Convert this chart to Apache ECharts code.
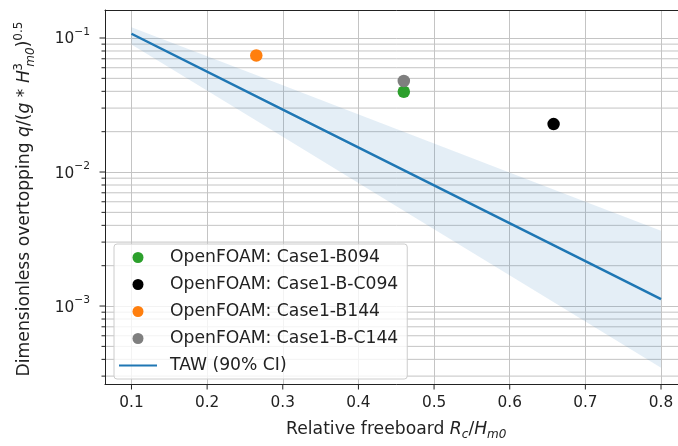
<!DOCTYPE html>
<html>
<head>
<meta charset="utf-8">
<script src="https://cdn.jsdelivr.net/npm/echarts@6/dist/echarts.min.js"></script>
<style>
  html, body { margin: 0; padding: 0; background: #ffffff; overflow: hidden; }
  #chart { width: 700px; height: 446px; }
</style>
</head>
<body>
<div id="chart"></div>
<script>
// OpenFOAM cases: relative freeboard Rc/Hm0 and dimensionless overtopping
const caseNames = ['OpenFOAM: Case1-B094', 'OpenFOAM: Case1-B-C094', 'OpenFOAM: Case1-B144', 'OpenFOAM: Case1-B-C144'];
const caseColors = ['#2ca02c', '#000000', '#ff7f0e', '#7f7f7f'];
const caseFreeboard = [0.46, 0.658, 0.265, 0.46];
const caseOvertopping = [0.0397, 0.0228, 0.074, 0.0478];

// TAW prediction and its 90% confidence band
const tawName = 'TAW (90% CI)';
const tawFreeboard = [0.1, 0.3, 0.5, 0.7, 0.8];
const tawMean = [0.1076, 0.0292, 0.00796, 0.00216, 0.001127];
const tawUpper = [0.1205, 0.0444, 0.0163, 0.0060, 0.00364];
const tawLower = [0.0893, 0.0183, 0.00374, 0.000766, 0.000347];

// Axis limits and ticks
const xLimits = [0.065, 0.835];
const yLimits = [2.62e-4, 0.1618];
const xTicks = [0.1, 0.2, 0.3, 0.4, 0.5, 0.6, 0.7, 0.8];
const yMajorTicks = [1e-3, 1e-2, 1e-1];
const yMinorTicks = [3e-4, 4e-4, 5e-4, 6e-4, 7e-4, 8e-4, 9e-4,
                     2e-3, 3e-3, 4e-3, 5e-3, 6e-3, 7e-3, 8e-3, 9e-3,
                     2e-2, 3e-2, 4e-2, 5e-2, 6e-2, 7e-2, 8e-2, 9e-2];

const FONT = 'DejaVu Sans';
const INK = '#222222';
const GRID = '#c4c4c4';

const chart = echarts.init(document.getElementById('chart'), null, { renderer: 'canvas' });

// Minor horizontal grid lines plus short ticks on the left spine
function minorYRender(params, api) {
  const cs = params.coordSys;
  const y = api.coord([xTicks[0], api.value(1)])[1];
  return {
    type: 'group',
    children: [
      { type: 'line', shape: { x1: cs.x, y1: y, x2: cs.x + cs.width, y2: y },
        style: { stroke: GRID, lineWidth: 1 } },
      { type: 'line', shape: { x1: cs.x - 3.5, y1: y, x2: cs.x, y2: y },
        style: { stroke: INK, lineWidth: 1 } }
    ]
  };
}
function majorYRender(params, api) {
  const cs = params.coordSys;
  const y = api.coord([xTicks[0], api.value(1)])[1];
  return { type: 'line', shape: { x1: cs.x - 5.5, y1: y, x2: cs.x, y2: y },
           style: { stroke: INK, lineWidth: 1 } };
}
function majorXRender(params, api) {
  const cs = params.coordSys;
  const x = api.coord([api.value(0), yLimits[0]])[0];
  const yb = cs.y + cs.height;
  return { type: 'line', shape: { x1: x, y1: yb, x2: x, y2: yb + 5.5 },
           style: { stroke: INK, lineWidth: 1 } };
}
// Confidence band as one closed polygon
function bandRender(params, api) {
  if (params.dataIndex !== 0) return null;
  const pts = [];
  for (let i = 0; i < tawFreeboard.length; i++) pts.push(api.coord([tawFreeboard[i], tawUpper[i]]));
  for (let i = tawFreeboard.length - 1; i >= 0; i--) pts.push(api.coord([tawFreeboard[i], tawLower[i]]));
  return { type: 'polygon', shape: { points: pts },
           style: { fill: 'rgba(31,119,180,0.12)', stroke: null } };
}

const scatterSeries = caseNames.map((name, i) => ({
  name: name,
  type: 'scatter',
  symbol: 'circle',
  symbolSize: 12.5,
  itemStyle: { color: caseColors[i], opacity: 1 },
  data: [[caseFreeboard[i], caseOvertopping[i]]],
  z: 5,
  silent: true
}));

const option = {
  animation: false,
  backgroundColor: '#ffffff',
  textStyle: { fontFamily: FONT },
  grid: { left: 105, top: 10, width: 582.5, height: 378, containLabel: false },
  xAxis: [{
    type: 'value',
    min: xLimits[0], max: xLimits[1],
    minInterval: 0.1, maxInterval: 0.1,
    axisLine: { show: true, onZero: false, lineStyle: { color: INK, width: 1 } },
    axisTick: { show: false },
    splitLine: { show: true, showMinLine: false, showMaxLine: false, lineStyle: { color: GRID, width: 1 } },
    axisLabel: {
      margin: 12, color: INK, fontFamily: FONT, fontSize: 15.3,
      formatter: v => (Math.abs(v * 10 - Math.round(v * 10)) < 1e-6 ? v.toFixed(1) : '')
    },
    name: 'Relative freeboard {i|R}{sb|c}{t|/}{i|H}{sb|m0}',
    nameLocation: 'middle',
    nameGap: 35,
    nameTextStyle: {
      color: INK, fontFamily: FONT, fontSize: 17.2, lineHeight: 22,
      rich: {
        t: { fontFamily: FONT, fontSize: 17.2, lineHeight: 22, color: INK },
        i: { fontFamily: FONT, fontSize: 17.2, lineHeight: 22, fontStyle: 'italic', color: INK },
        sb: { fontFamily: FONT, fontSize: 12, lineHeight: 14, fontStyle: 'italic', verticalAlign: 'bottom', color: INK }
      }
    }
  }, {
    type: 'value',
    position: 'top',
    min: xLimits[0], max: xLimits[1],
    axisLine: { show: true, onZero: false, lineStyle: { color: INK, width: 1 } },
    axisTick: { show: false },
    axisLabel: { show: false },
    splitLine: { show: false }
  }],
  yAxis: {
    type: 'log',
    logBase: 10,
    min: yLimits[0], max: yLimits[1],
    axisLine: { show: true, onZero: false, lineStyle: { color: INK, width: 1 } },
    axisTick: { show: false },
    splitLine: { show: true, showMinLine: false, showMaxLine: false, lineStyle: { color: GRID, width: 1 } },
    axisLabel: {
      margin: 15,
      formatter: v => {
        const e = Math.log10(v);
        const r = Math.round(e);
        if (Math.abs(e - r) > 1e-6) return '';
        return '{n|10}{e|\u2212' + (-r) + '}';
      },
      rich: {
        n: { fontFamily: FONT, fontSize: 15.3, lineHeight: 22, color: INK, padding: [3, 0, 0, 0] },
        e: { fontFamily: FONT, fontSize: 10.7, lineHeight: 14, verticalAlign: 'top', color: INK }
      }
    }
  },
  legend: {
    orient: 'vertical',
    left: 114, top: 244,
    padding: [5, 9, 5, 4],
    itemWidth: 38, itemHeight: 11,
    itemGap: 10,
    selectedMode: false,
    backgroundColor: 'rgba(255,255,255,0.8)',
    borderColor: '#cccccc', borderWidth: 1, borderRadius: 3,
    textStyle: { fontFamily: FONT, fontSize: 17.2, lineHeight: 16, color: INK, padding: [0, 0, 0, 8] },
    data: caseNames.map(n => ({ name: n, icon: 'circle' })).concat([
      { name: tawName, itemStyle: { opacity: 0, borderWidth: 0 } }
    ]),
    z: 20
  },
  graphic: [{
    type: 'text',
    x: 25, y: 199,
    rotation: Math.PI / 2,
    silent: true,
    style: {
      text: 'Dimensionless overtopping {i|q}{t|/(}{i|g}{t| * }{i|H}{sp0|3}{sb|m0}{t|)}{sp|0.5}',
      align: 'center', verticalAlign: 'middle',
      fill: INK, font: '17.2px ' + FONT, lineHeight: 24,
      rich: {
        t: { fontFamily: FONT, fontSize: 17.2, lineHeight: 24, fill: INK },
        i: { fontFamily: FONT, fontSize: 17.2, lineHeight: 24, fontStyle: 'italic', fill: INK },
        sp0: { fontFamily: FONT, fontSize: 12, lineHeight: 16, verticalAlign: 'top', align: 'left',
               width: 0.5, padding: [0, 0, 0, 3], fill: INK },
        sp: { fontFamily: FONT, fontSize: 12, lineHeight: 16, verticalAlign: 'top', fill: INK },
        sb: { fontFamily: FONT, fontSize: 12, lineHeight: 16, fontStyle: 'italic', verticalAlign: 'bottom', fill: INK }
      }
    }
  }],
  series: [
    {
      name: 'minor y grid', type: 'custom', renderItem: minorYRender, silent: true, clip: false,
      data: yMinorTicks.map(v => [xTicks[0], v]), z: 0
    },
    {
      name: 'major y ticks', type: 'custom', renderItem: majorYRender, silent: true, clip: false,
      data: yMajorTicks.map(v => [xTicks[0], v]), z: 1
    },
    {
      name: 'major x ticks', type: 'custom', renderItem: majorXRender, silent: true, clip: false,
      data: xTicks.map(v => [v, yLimits[0]]), z: 1
    },
    {
      name: 'TAW band', type: 'custom', renderItem: bandRender, silent: true,
      data: tawFreeboard.map((x, i) => [x, tawLower[i], tawUpper[i]]),
      encode: { x: 0, y: [1, 2] }, z: 2
    },
    {
      name: tawName, type: 'line', symbol: 'none', silent: true,
      lineStyle: { color: '#1f77b4', width: 2.5 },
      itemStyle: { color: '#1f77b4' },
      data: tawFreeboard.map((x, i) => [x, tawMean[i]]),
      z: 3
    }
  ].concat(scatterSeries)
};

chart.setOption(option);
</script>
</body>
</html>
